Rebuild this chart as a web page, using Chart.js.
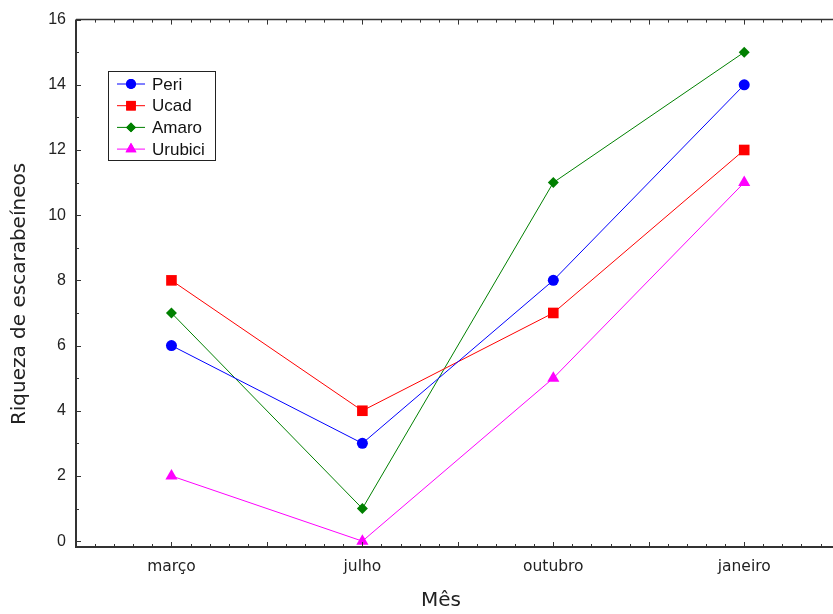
<!DOCTYPE html>
<html>
<head>
<meta charset="utf-8">
<script src="https://cdn.jsdelivr.net/npm/chart.js@4.4.0/dist/chart.umd.min.js"></script>
<style>
    html, body { margin: 0; padding: 0; background: #fff; overflow: hidden; }
    #chart { display: block; }
</style>
</head>
<body>
<canvas id="chart" width="833" height="614"></canvas>
<script>
// Data
const meses = ['março', 'julho', 'outubro', 'janeiro'];
const peri = [6, 3, 8, 14];
const ucad = [8, 4, 7, 12];
const amaro = [7, 1, 11, 15];
const urubici = [2, 0, 5, 11];
const yTicks = [0, 2, 4, 6, 8, 10, 12, 14, 16];

const series = [
    { label: 'Peri', data: peri, color: '#0000ff', style: 'circle', radius: 5.5 },
    { label: 'Ucad', data: ucad, color: '#ff0000', style: 'rect', radius: 7.5 },
    { label: 'Amaro', data: amaro, color: '#008000', style: 'rectRot', radius: 5.5 },
    { label: 'Urubici', data: urubici, color: '#ff00ff', style: 'triangle', radius: 7 }
];

// inward ticks + frame, like the old Statistica plot
const framePlugin = {
    id: 'frame',
    afterDatasetsDraw(chart) {
        const ctx = chart.ctx;
        const a = chart.chartArea;
        const x = chart.scales.x;
        const y = chart.scales.y;
        ctx.save();
        ctx.strokeStyle = '#333';
        ctx.lineWidth = 1;
        // x ticks every 0.1 month, major every 0.5
        for (let k = -5; k <= 34; k++) {
            const px = Math.round(x.getPixelForValue(k / 10)) + 0.5;
            const len = (k + 5) % 5 === 0 ? 5 : 3;
            ctx.beginPath();
            ctx.moveTo(px, a.bottom);
            ctx.lineTo(px, a.bottom - len);
            ctx.moveTo(px, a.top);
            ctx.lineTo(px, a.top + len);
            ctx.stroke();
        }
        // y ticks every 1, major every 2
        for (let v = 0; v <= 16; v++) {
            const py = Math.round(y.getPixelForValue(v)) + 0.5;
            const len = v % 2 === 0 ? 5 : 3;
            ctx.beginPath();
            ctx.moveTo(a.left, py);
            ctx.lineTo(a.left + len, py);
            ctx.stroke();
        }
        // frame (right side runs off the picture)
        ctx.lineWidth = 2;
        ctx.beginPath();
        ctx.moveTo(a.left, a.top);
        ctx.lineTo(a.left, a.bottom);
        ctx.lineTo(a.right, a.bottom);
        ctx.stroke();
        ctx.lineWidth = 1.5;
        ctx.beginPath();
        ctx.moveTo(a.left, a.top);
        ctx.lineTo(a.right, a.top);
        ctx.stroke();
        ctx.restore();
    }
};

// axis titles, placed where the original has them
const titlesPlugin = {
    id: 'titles',
    afterDraw(chart) {
        const ctx = chart.ctx;
        ctx.save();
        ctx.fillStyle = '#222';
        ctx.font = '20px "DejaVu Sans", sans-serif';
        ctx.textAlign = 'center';
        ctx.textBaseline = 'middle';
        ctx.fillText('Mês', 441, 601);
        ctx.translate(20, 294);
        ctx.rotate(-Math.PI / 2);
        ctx.fillText('Riqueza de escarabeíneos', 0, 0);
        ctx.restore();
    }
};

// legend box with line + marker, inside the plot
const legendPlugin = {
    id: 'boxLegend',
    afterDraw(chart) {
        const ctx = chart.ctx;
        const bx = 108, by = 71, bw = 107, bh = 89;
        ctx.save();
        ctx.fillStyle = '#fff';
        ctx.fillRect(bx, by, bw, bh);
        ctx.strokeStyle = '#222';
        ctx.lineWidth = 1;
        ctx.strokeRect(bx + 0.5, by + 0.5, bw, bh);
        ctx.font = '17px "Liberation Sans", Arial, sans-serif';
        ctx.textBaseline = 'middle';
        series.forEach((s, i) => {
            const cy = by + 13 + i * 21.7;
            ctx.strokeStyle = s.color;
            ctx.lineWidth = 1;
            ctx.beginPath();
            ctx.moveTo(117, cy);
            ctx.lineTo(145, cy);
            ctx.stroke();
            ctx.fillStyle = s.color;
            Chart.helpers.drawPoint(ctx, { pointStyle: s.style, radius: s.radius * 0.9, rotation: 0, borderWidth: 0 }, 131, cy);
            ctx.fill();
            ctx.fillStyle = '#111';
            ctx.fillText(s.label, 152, cy + 1);
        });
        ctx.restore();
    }
};

const ctx = document.getElementById('chart').getContext('2d');
new Chart(ctx, {
    type: 'line',
    data: {
        datasets: series.map(s => ({
            label: s.label,
            data: s.data.map((v, i) => ({ x: i, y: v })),
            borderColor: s.color,
            backgroundColor: s.color,
            borderWidth: 1,
            pointStyle: s.style,
            pointRadius: s.radius,
            pointBorderWidth: 0,
            tension: 0,
            clip: false
        }))
    },
    options: {
        responsive: false,
        animation: false,
        layout: { autoPadding: false, padding: { top: 19, right: 0, left: 0, bottom: 0 } },
        plugins: {
            legend: { display: false },
            tooltip: { enabled: false }
        },
        scales: {
            x: {
                type: 'linear',
                min: -0.5,
                max: 3.465,
                afterBuildTicks: (scale) => { scale.ticks = meses.map((m, i) => ({ value: i })); },
                grid: { display: false, drawTicks: false },
                border: { display: false },
                ticks: {
                    padding: 11,
                    color: '#222',
                    font: { family: 'DejaVu Sans', size: 15.5 },
                    maxRotation: 0,
                    callback: (v) => meses[v]
                },
                afterFit: (scale) => {
                    scale.height = 67;
                    scale.paddingLeft = 0;
                    scale.paddingRight = 0;
                }
            },
            y: {
                min: -0.18,
                max: 16,
                afterBuildTicks: (scale) => { scale.ticks = yTicks.map(v => ({ value: v })); },
                grid: { display: false, drawTicks: false },
                border: { display: false },
                ticks: {
                    padding: 10,
                    color: '#222',
                    font: { family: '"Liberation Sans", Arial', size: 16 }
                },
                afterFit: (scale) => { scale.width = 76; }
            }
        }
    },
    plugins: [framePlugin, titlesPlugin, legendPlugin]
});
</script>
</body>
</html>
